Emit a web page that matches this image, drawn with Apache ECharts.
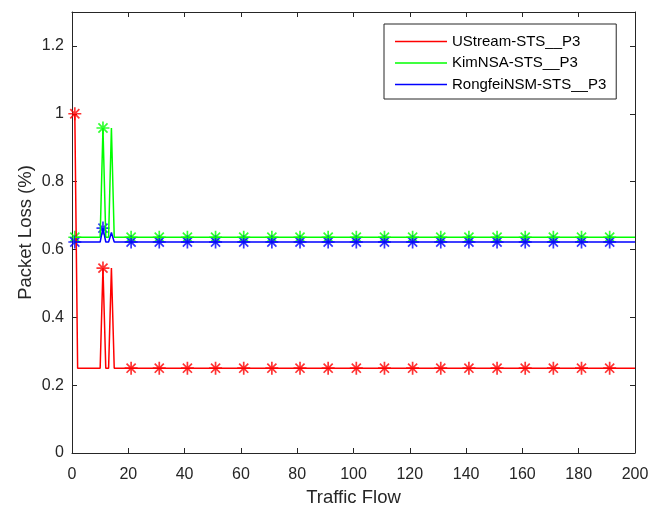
<!DOCTYPE html>
<html>
<head>
<meta charset="utf-8">
<script src="https://cdn.jsdelivr.net/npm/echarts@6/dist/echarts.min.js"></script>
<style>html,body{margin:0;padding:0;background:#fff;}#c{width:660px;height:507px;}</style>
</head>
<body>
<div id="c"></div>
<script>
// Data
const flowX     = [1, 2, 10, 11, 12, 13, 14, 15, 21, 31, 41, 51, 61, 71, 81, 91, 101, 111, 121, 131, 141, 151, 161, 171, 181, 191, 200];
const ustream   = [1.0, 0.25, 0.25, 0.545, 0.25, 0.25, 0.545, 0.25, 0.25, 0.25, 0.25, 0.25, 0.25, 0.25, 0.25, 0.25, 0.25, 0.25, 0.25, 0.25, 0.25, 0.25, 0.25, 0.25, 0.25, 0.25, 0.25];
const kimnsa    = [0.636, 0.636, 0.636, 0.958, 0.636, 0.636, 0.958, 0.636, 0.636, 0.636, 0.636, 0.636, 0.636, 0.636, 0.636, 0.636, 0.636, 0.636, 0.636, 0.636, 0.636, 0.636, 0.636, 0.636, 0.636, 0.636, 0.636];
const rongfei   = [0.622, 0.622, 0.622, 0.663, 0.622, 0.622, 0.65, 0.622, 0.622, 0.622, 0.622, 0.622, 0.622, 0.622, 0.622, 0.622, 0.622, 0.622, 0.622, 0.622, 0.622, 0.622, 0.622, 0.622, 0.622, 0.622, 0.622];
const seriesNames = ['UStream-STS__P3', 'KimNSA-STS__P3', 'RongfeiNSM-STS__P3'];
const seriesColors = ['#ff0000', '#00ff00', '#0000ff'];
const markerX   = [1, 11, 21, 31, 41, 51, 61, 71, 81, 91, 101, 111, 121, 131, 141, 151, 161, 171, 181, 191];

const allVals = [ustream, kimnsa, rongfei];
const axisColor = '#262626';
const font = 'Liberation Sans, Arial, Helvetica, sans-serif';
const star = 'path://M6,0L6,12M0,6L12,6M1.8,1.8L10.2,10.2M1.8,10.2L10.2,1.8';

const series = [];
allVals.forEach((vals, i) => {
  series.push({
    name: seriesNames[i], type: 'line', xAxisIndex: 0, yAxisIndex: 0,
    data: flowX.map((x, k) => [x, vals[k]]),
    showSymbol: false, symbol: 'none', animation: false,
    lineStyle: { color: seriesColors[i], width: 1.5 },
    itemStyle: { color: seriesColors[i] }
  });
  series.push({
    name: seriesNames[i] + ' markers', type: 'scatter', xAxisIndex: 0, yAxisIndex: 0,
    data: flowX.map((x, k) => [x, vals[k]]).filter(p => markerX.indexOf(p[0]) >= 0),
    symbol: star, symbolSize: 13, animation: false,
    itemStyle: { color: 'rgba(0,0,0,0)', borderColor: seriesColors[i], borderWidth: 1.7 }
  });
});

const tickStyle = { show: true, inside: true, length: 5, lineStyle: { color: axisColor, width: 1 } };
const lineStyle = { show: true, onZero: false, lineStyle: { color: axisColor, width: 1 } };

const option = {
  backgroundColor: '#fff',
  animation: false,
  grid: { left: 72, right: 25, top: 12, bottom: 54, containLabel: false, outerBoundsMode: 'none' },
  legend: {
    data: seriesNames.map(n => ({ name: n, icon: 'rect' })),
    orient: 'vertical', left: 384, top: 24,
    padding: [10, 10, 7, 11],
    itemWidth: 52, itemHeight: 1.5, itemGap: 6.5,
    borderColor: axisColor, borderWidth: 1, backgroundColor: '#fff',
    textStyle: { fontFamily: font, fontSize: 15, color: '#000' }
  },
  xAxis: [
    { type: 'value', position: 'bottom', min: 0, max: 200, interval: 20,
      name: 'Traffic Flow', nameLocation: 'middle', nameGap: 35, nameMoveOverlap: false,
      nameTextStyle: { fontFamily: font, fontSize: 18.5, color: axisColor },
      axisLine: lineStyle, axisTick: tickStyle, splitLine: { show: false },
      axisLabel: { fontFamily: font, fontSize: 16, color: axisColor, margin: 14 } },
    { type: 'value', position: 'top', min: 0, max: 200, interval: 20,
      axisLine: lineStyle, axisTick: tickStyle, splitLine: { show: false },
      axisLabel: { show: false } }
  ],
  yAxis: [
    { type: 'value', position: 'left', min: 0, max: 1.3, interval: 0.2,
      name: 'Packet Loss (%)', nameLocation: 'middle', nameGap: 37, nameMoveOverlap: false,
      nameTextStyle: { fontFamily: font, fontSize: 18.5, color: axisColor },
      axisLine: lineStyle, axisTick: tickStyle, splitLine: { show: false },
      axisLabel: { fontFamily: font, fontSize: 16, color: axisColor, margin: 8, showMaxLabel: false,
        padding: [5, 0, 0, 0],
        formatter: v => String(Math.round(v * 10) / 10) } },
    { type: 'value', position: 'right', min: 0, max: 1.3, interval: 0.2,
      axisLine: lineStyle, axisTick: tickStyle, splitLine: { show: false },
      axisLabel: { show: false } }
  ],
  series: series
};

const chart = echarts.init(document.getElementById('c'), null, { renderer: 'canvas' });
chart.setOption(option);
</script>
</body>
</html>
